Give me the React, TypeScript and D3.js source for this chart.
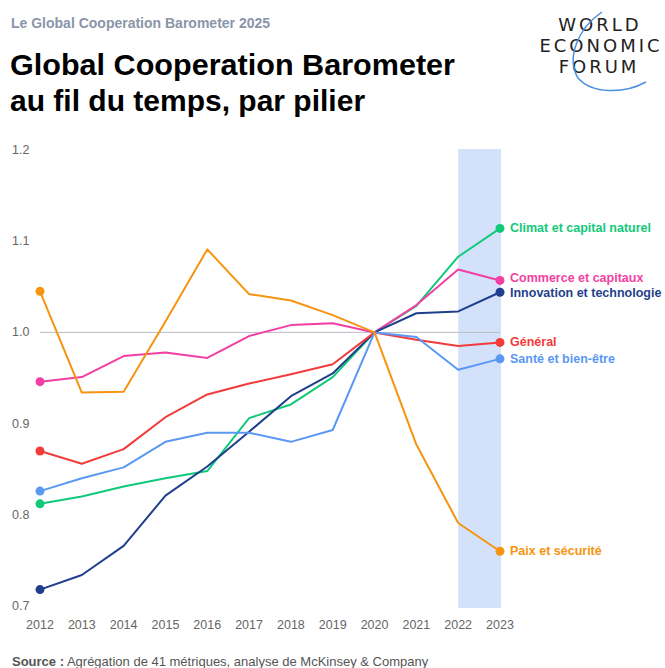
import React from "react";
import * as d3 from "d3";

const years = [2012, 2013, 2014, 2015, 2016, 2017, 2018, 2019, 2020, 2021, 2022, 2023];
const yTicks = [0.7, 0.8, 0.9, 1.0, 1.1, 1.2];

const climat = [0.812, 0.82, 0.831, 0.84, 0.848, 0.906, 0.921, 0.951, 1.0, 1.029, 1.083, 1.114];
const commerce = [0.946, 0.951, 0.974, 0.978, 0.972, 0.996, 1.008, 1.01, 1.0, 1.03, 1.069, 1.057];
const innovation = [0.718, 0.734, 0.766, 0.821, 0.853, 0.891, 0.93, 0.955, 1.0, 1.021, 1.023, 1.044];
const general = [0.87, 0.856, 0.872, 0.907, 0.932, 0.944, 0.954, 0.965, 1.0, 0.992, 0.985, 0.989];
const sante = [0.826, 0.84, 0.852, 0.88, 0.89, 0.89, 0.88, 0.893, 1.0, 0.995, 0.959, 0.971];
const paix = [1.045, 0.934, 0.935, 1.012, 1.091, 1.042, 1.035, 1.019, 1.0, 0.877, 0.791, 0.76];

const seriesNames = [
  "Climat et capital naturel",
  "Commerce et capitaux",
  "Innovation et technologie",
  "Général",
  "Santé et bien-être",
  "Paix et sécurité",
];
const seriesValues = [climat, commerce, innovation, general, sante, paix];
const seriesColors = ["#12c97a", "#f23fa3", "#1f3f8c", "#f23b3b", "#5a98f2", "#f7940f"];
// small label offsets to avoid overlap (pixels)
const labelDy = [0, -2, 1, 0, 0, 0];

const highlightStart = 2022;
const highlightEnd = 2023;

export default function App() {
  const W = 665;
  const H = 668;
  const x = d3.scaleLinear().domain([2012, 2023]).range([40, 500]);
  const y = d3.scaleLinear().domain([0.7, 1.2]).range([606, 150]);
  const line = d3
    .line<number>()
    .x((_, i) => x(years[i]))
    .y((d) => y(d));
  const font = "'Liberation Sans', Arial, Helvetica, sans-serif";

  return (
    <svg
      width={W}
      height={H}
      style={{ position: "absolute", left: 0, top: 0, background: "#fff" }}
      fontFamily={font}
    >
      <rect x={0} y={0} width={W} height={H} fill="#fff" />
      {/* header */}
      <text x={11} y={28} fontSize={14} fontWeight="bold" fill="#8b95a9">
        Le Global Cooperation Barometer 2025
      </text>
      <text x={10} y={75} fontSize={30} fontWeight="bold" fill="#000" textLength={445} lengthAdjust="spacingAndGlyphs">
        Global Cooperation Barometer
      </text>
      <text x={10} y={111} fontSize={30} fontWeight="bold" fill="#000">
        au fil du temps, par pilier
      </text>

      {/* logo */}
      <g fontFamily="'DejaVu Sans', sans-serif" fill="#222" fontSize={18} textAnchor="middle" letterSpacing={3}>
        <text x={600} y={31}>WORLD</text>
        <text x={601} y={52}>ECONOMIC</text>
        <text x={599} y={73}>FORUM</text>
      </g>
      <path
        d="M602,12 C578,28 566,58 578,78 C592,94 624,94 646,82"
        fill="none"
        stroke="#4a8fe0"
        strokeWidth={1.5}
      />

      {/* highlight band */}
      <rect
        x={x(highlightStart)}
        y={y(1.2) - 1}
        width={x(highlightEnd) - x(highlightStart) + 1}
        height={y(0.7) - y(1.2) + 3}
        fill="#d3e2fa"
      />

      {/* reference line at 1.0 */}
      <line x1={x(2012)} x2={x(2023)} y1={y(1.0)} y2={y(1.0)} stroke="#b9bcc8" strokeWidth={1} />

      {/* y ticks */}
      {yTicks.map((t) => (
        <text key={t} x={12} y={y(t) + 4} fontSize={12.5} fill="#666">
          {d3.format(".1f")(t)}
        </text>
      ))}
      {/* x ticks */}
      {years.map((yr) => (
        <text key={yr} x={x(yr)} y={629} fontSize={12.5} fill="#666" textAnchor="middle">
          {yr}
        </text>
      ))}

      {/* lines */}
      {seriesValues.map((vals, si) => (
        <g key={seriesNames[si]}>
          <path d={line(vals) || ""} fill="none" stroke={seriesColors[si]} strokeWidth={2} strokeLinejoin="round" />
          <circle cx={x(years[0])} cy={y(vals[0])} r={4.5} fill={seriesColors[si]} />
          <circle cx={x(years[years.length - 1])} cy={y(vals[vals.length - 1])} r={4.5} fill={seriesColors[si]} />
          <text
            x={x(years[years.length - 1]) + 10}
            y={y(vals[vals.length - 1]) + 4 + labelDy[si]}
            fontSize={12.5}
            fontWeight="bold"
            fill={seriesColors[si]}
          >
            {seriesNames[si]}
          </text>
        </g>
      ))}

      {/* source */}
      <text x={12} y={666} fontSize={13} fill="#555">
        <tspan fontWeight="bold">Source :</tspan>
        <tspan> Agrégation de 41 métriques, analyse de McKinsey &amp; Company</tspan>
      </text>
    </svg>
  );
}
